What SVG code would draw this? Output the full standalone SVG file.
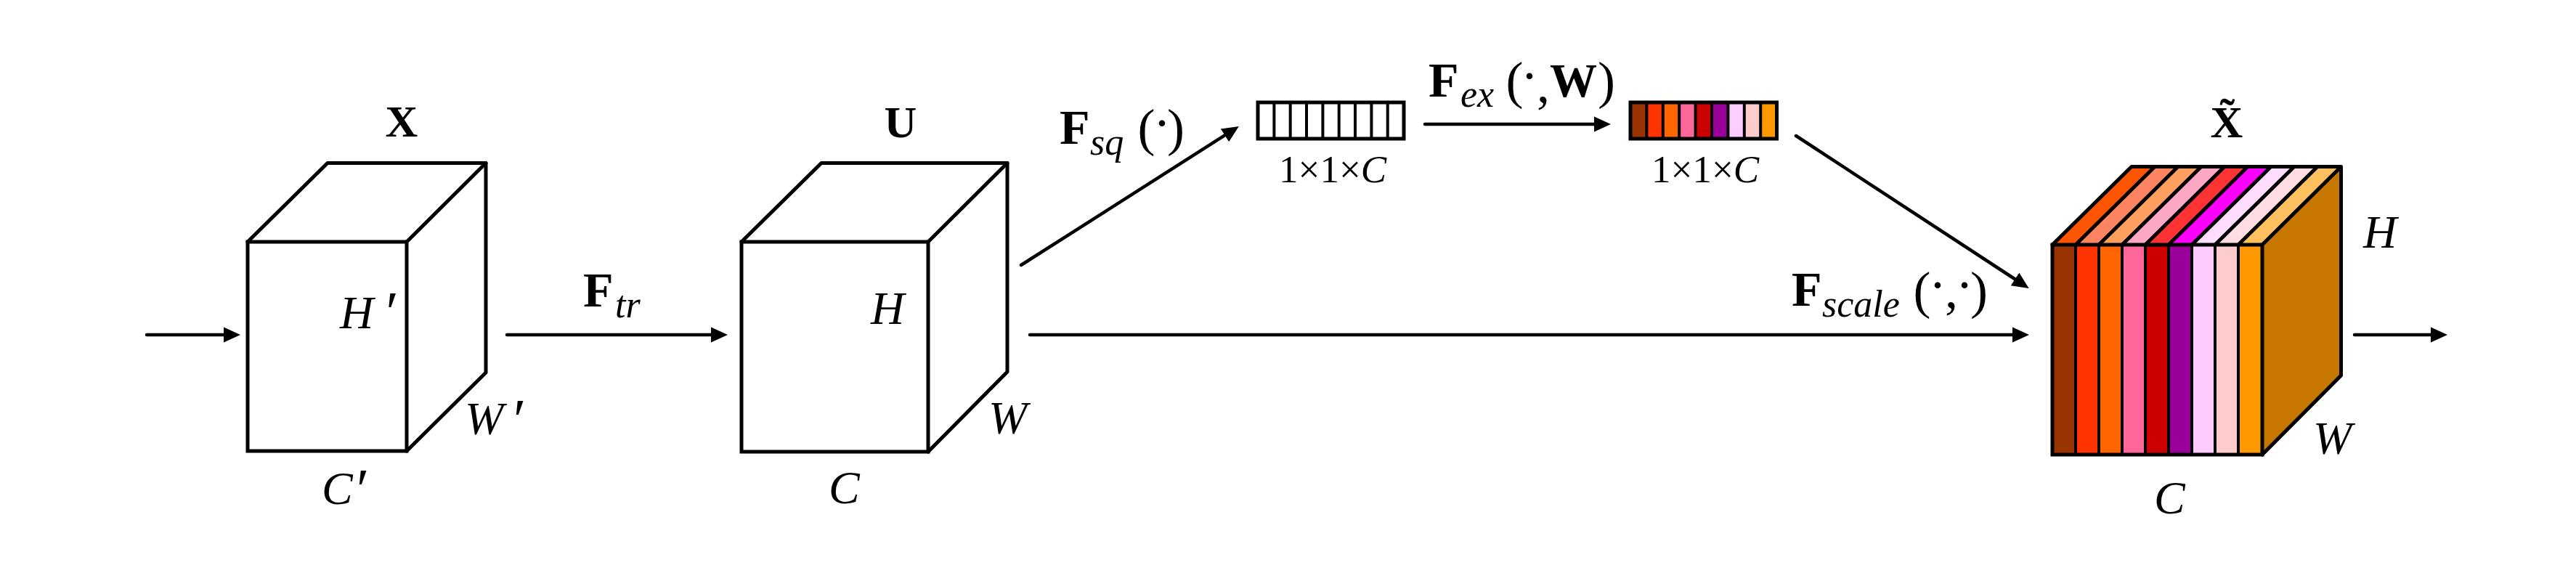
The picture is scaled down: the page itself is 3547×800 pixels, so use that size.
<svg xmlns="http://www.w3.org/2000/svg" width="3547" height="800" viewBox="0 0 3547 800">
<style>
text{font-family:"Liberation Serif","Times New Roman",serif;fill:#000;white-space:pre}
.b{font-weight:bold;font-size:62px}
.F{font-weight:bold;font-size:68px}
.i{font-style:italic;font-size:64px}
.p{font-style:italic;font-size:80px}
.s{font-style:italic;font-size:52px}
.r{font-size:72px}
.d{font-size:53px}
.f{fill:#fff;stroke:#000;stroke-width:5;stroke-linejoin:miter}
.o{fill:none;stroke:#000;stroke-width:5;stroke-linejoin:round;stroke-linecap:round}
.c{fill:none;stroke:#000;stroke-width:4.5;stroke-linecap:round;marker-end:url(#a)}
.g{stroke:#000;stroke-width:4}
</style>
<defs>
<marker id="a" markerUnits="userSpaceOnUse" markerWidth="26" markerHeight="24" refX="3" refY="12" orient="auto" viewBox="0 0 26 24"><path d="M0 1.500L23 12L0 22.500Z" fill="#000"/></marker>
</defs>
<rect width="3547" height="800" fill="#fff"/>
<g id="connectors">
<line class="c" x1="202" y1="461" x2="311" y2="461"/>
<line class="c" x1="698" y1="461" x2="982" y2="461"/>
<line class="c" x1="1406" y1="365" x2="1689" y2="184.700"/>
<line class="c" x1="1418" y1="461" x2="2774" y2="461"/>
<line class="c" x1="1962" y1="171" x2="2198" y2="171"/>
<line class="c" x1="2473" y1="187" x2="2777" y2="386"/>
<line class="c" x1="3242" y1="461" x2="3350" y2="461"/>
</g>
<g id="cube-x">
<path class="o" d="M341 333L451 224.500H669V513L560 621"/>
<path class="o" d="M560 333L669 224.500"/>
<rect class="f" x="341" y="333" width="219" height="288"/>
<text class="b" x="553" y="188" text-anchor="middle">X</text>
<text class="i" x="468" y="452">H</text><text class="p" x="526.500" y="457">′</text>
<text class="i" x="640" y="598">W</text><text class="p" x="702" y="605">′</text>
<text class="i" x="443" y="694">C</text><text class="p" x="486" y="701">′</text>
</g>
<g id="label-ftr">
<text class="F" x="803" y="422">F</text><text class="s" x="847" y="437">tr</text>
</g>
<g id="cube-u">
<path class="o" d="M1021 333L1131 224.500H1387V512L1278 622"/>
<path class="o" d="M1278 333L1387 224.500"/>
<rect class="f" x="1021" y="333" width="257" height="289"/>
<text class="b" x="1240" y="189" text-anchor="middle">U</text>
<text class="i" x="1199" y="446">H</text>
<text class="i" x="1361" y="597">W</text>
<text class="i" x="1141" y="693">C</text>
</g>
<g id="label-fsq">
<text class="F" x="1459" y="198">F</text><text class="s" x="1501" y="213">sq</text>
<text class="r" x="1566.500" y="200">(</text><text class="r" x="1600" y="194" text-anchor="middle">·</text><text class="r" x="1607" y="200">)</text>
</g>
<g id="vector-plain">
<rect class="f" x="1732" y="141" width="201" height="50"/>
<path class="g" d="M1754.400 141V191M1776.700 141V191M1799 141V191M1821.400 141V191M1843.700 141V191M1866 141V191M1888.400 141V191M1910.700 141V191"/>
<text class="d" x="1761" y="251">1×1×<tspan font-style="italic">C</tspan></text>
</g>
<g id="label-fex">
<text class="F" x="1967" y="133">F</text><text class="s" x="2011" y="147">ex</text>
<text class="r" x="2073.500" y="135">(</text><text class="r" x="2106" y="129" text-anchor="middle">·</text><text class="r" x="2116" y="140">,</text><text class="F" x="2134" y="133" style="font-size:65px">W</text><text class="r" x="2200" y="135">)</text>
</g>
<g id="vector-color">
<rect x="2245" y="141" width="22.400" height="50" fill="#930"/>
<rect x="2267.400" y="141" width="22.400" height="50" fill="#f30"/>
<rect x="2289.800" y="141" width="22.400" height="50" fill="#f60"/>
<rect x="2312.200" y="141" width="22.400" height="50" fill="#f69"/>
<rect x="2334.600" y="141" width="22.400" height="50" fill="#c00"/>
<rect x="2357" y="141" width="22.400" height="50" fill="#909"/>
<rect x="2379.400" y="141" width="22.400" height="50" fill="#fcf"/>
<rect x="2401.800" y="141" width="22.400" height="50" fill="#fcc"/>
<rect x="2424.200" y="141" width="22.400" height="50" fill="#f90"/>
<rect x="2245" y="141" width="201.500" height="50" fill="none" stroke="#000" stroke-width="5"/>
<path class="g" d="M2267.400 141V191M2289.800 141V191M2312.200 141V191M2334.600 141V191M2357 141V191M2379.400 141V191M2401.800 141V191M2424.200 141V191"/>
<text class="d" x="2274" y="251">1×1×<tspan font-style="italic">C</tspan></text>
</g>
<g id="label-fscale">
<text class="F" x="2467" y="421">F</text><text class="s" x="2509" y="436">scale</text>
<text class="r" x="2634.500" y="424">(</text><text class="r" x="2668" y="417" text-anchor="middle">·</text><text class="r" x="2678" y="423">,</text><text class="r" x="2705" y="417" text-anchor="middle">·</text><text class="r" x="2713" y="424">)</text>
</g>
<g id="cube-x-tilde">
<path d="M3115 337L3223.500 229.500V517L3115 626Z" fill="#c67700"/>
<path d="M2826 337L2935 229.500H2967L2858 337Z" fill="#f50"/>
<path d="M2858 337L2967 229.500H2999L2890 337Z" fill="#ff8562"/>
<path d="M2890 337L2999 229.500H3031L2922 337Z" fill="#ffa060"/>
<path d="M2922 337L3031 229.500H3063L2954 337Z" fill="#ffa8c5"/>
<path d="M2954 337L3063 229.500H3095L2986 337Z" fill="#f33"/>
<path d="M2986 337L3095 229.500H3127L3018 337Z" fill="#f0f"/>
<path d="M3018 337L3127 229.500H3159L3050 337Z" fill="#fdf"/>
<path d="M3050 337L3159 229.500H3191L3082 337Z" fill="#ffdde2"/>
<path d="M3082 337L3191 229.500H3223.500L3115 337Z" fill="#ffc060"/>
<rect x="2826" y="337" width="32" height="289" fill="#930"/>
<rect x="2858" y="337" width="32" height="289" fill="#f30"/>
<rect x="2890" y="337" width="32" height="289" fill="#f60"/>
<rect x="2922" y="337" width="32" height="289" fill="#f69"/>
<rect x="2954" y="337" width="32" height="289" fill="#c00"/>
<rect x="2986" y="337" width="32" height="289" fill="#909"/>
<rect x="3018" y="337" width="32" height="289" fill="#fcf"/>
<rect x="3050" y="337" width="32" height="289" fill="#fcc"/>
<rect x="3082" y="337" width="33" height="289" fill="#f90"/>
<path class="o" d="M2826 337L2935 229.500H3223.500V517L3115 626M3115 337L3223.500 229.500M2858 337L2967 229.500M2890 337L2999 229.500M2922 337L3031 229.500M2954 337L3063 229.500M2986 337L3095 229.500M3018 337L3127 229.500M3050 337L3159 229.500M3082 337L3191 229.500"/>
<rect x="2826" y="337" width="289" height="289" fill="none" stroke="#000" stroke-width="5"/>
<path class="g" d="M2858 337V626M2890 337V626M2922 337V626M2954 337V626M2986 337V626M3018 337V626M3050 337V626M3082 337V626"/>
<text class="b" x="3066" y="189" text-anchor="middle">X̃</text>
<text class="i" x="3254" y="341">H</text>
<text class="i" x="3185" y="625">W</text>
<text class="i" x="2966" y="707">C</text>
</g>
</svg>
